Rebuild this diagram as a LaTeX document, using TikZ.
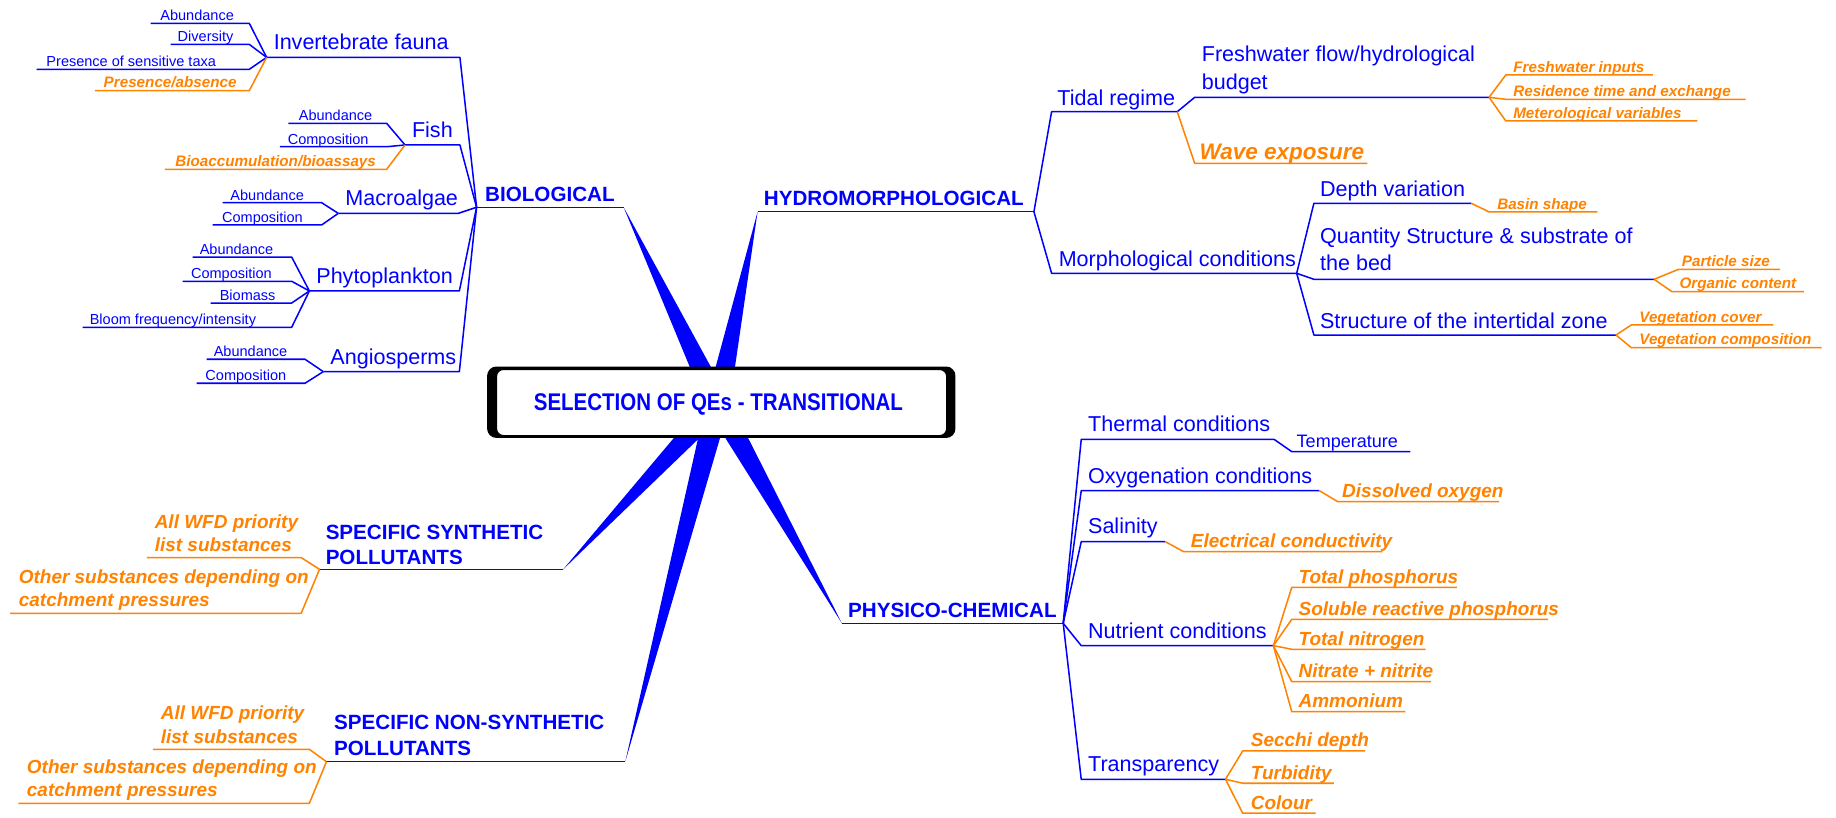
\documentclass[tikz,border=0pt]{standalone}
\usepackage{fontspec}
\setmainfont{Liberation Sans}
\newfontfamily\titlefont{Liberation Sans}[FakeStretch=0.85]
\usetikzlibrary{
  calc,         % wedge corners $(a)!d!90:(b)$
}
\definecolor{mmblue}{RGB}{0,0,255}
\definecolor{mmorange}{RGB}{255,130,0}
% underline of an entry: coordinates (#1-l) and (#1-r)
\newcommand{\twig}[4]{\coordinate (#1-l) at (#2,#4); \coordinate (#1-r) at (#3,#4);}
\newcommand{\fsz}[2]{\fontsize{#1}{#2}\selectfont}
\tikzset{
  every node/.style={
    anchor=base west,
    inner sep=0pt,
    align=left
  },
  title/.style={
    anchor=center,
    text=mmblue,
    font=\titlefont\bfseries\fsz{10.3pt}{12pt}
  },
  main topic/.style={
    text=mmblue,
    font=\bfseries\fsz{8.8pt}{10.8pt}
  },
  sub topic/.style={
    text=mmblue,
    font=\fsz{9.2pt}{12pt}
  },
  blue leaf/.style={
    text=mmblue,
    font=\fsz{6.2pt}{7.5pt}
  },
  orange leaf/.style={
    text=mmorange,
    font=\bfseries\itshape\fsz{6.5pt}{8pt}
  },
  orange item/.style={
    text=mmorange,
    font=\bfseries\itshape\fsz{8.1pt}{10pt}
  },
  blue link/.style={
    draw=mmblue,
    line width=0.65pt,
    line join=round
  },
  orange link/.style={
    draw=mmorange,
    line width=0.65pt,
    line join=round
  },
  branch wedge/.style={
    fill=mmblue
  }
}
\begin{document}
\begin{tikzpicture}[x=0.5pt,y=-0.5pt]
\useasboundingbox (0,0) rectangle (1568,698);
\coordinate (hub) at (613,345);
% main branches
\twig{bio}{407}{532.6}{177}
\twig{hyd}{647}{883}{180.8}
\twig{phy}{719}{908}{532.3}
\twig{syn}{272.9}{481}{486.2}
\twig{nsy}{278.8}{534}{650.5}
\foreach \tip in {bio-r,hyd-l,phy-l,syn-r,nsy-r}
  \fill[branch wedge] ($(hub)!5pt!90:(\tip)$) -- (\tip) -- ($(hub)!5pt!-90:(\tip)$) -- cycle;
\fill[black,rounded corners=4pt] (416,313) rectangle (816,374);
\filldraw[fill=white,draw=black,line width=0.5pt,rounded corners=3pt] (424,315.5) rectangle (808.5,372);
\node[title] (sel) at (613.5,345) {SELECTION OF QEs - TRANSITIONAL};

% biological
\node[main topic] (bio) at (414,172) {BIOLOGICAL};
\draw[blue link] (bio-l) -- (bio-r);
\twig{inv}{227.7}{392.8}{49}
\node[sub topic] (inv) at (233.4,42.5) {Invertebrate fauna};
\twig{inva}{128.7}{212.9}{19.9}
\node[blue leaf] (inva) at (136.6,17.6) {Abundance};
\twig{invb}{145.8}{212.9}{37.9}
\node[blue leaf] (invb) at (151.4,35.6) {Diversity};
\twig{invc}{31.3}{212.9}{59.2}
\node[blue leaf] (invc) at (39.3,56.9) {Presence of sensitive taxa};
\twig{invd}{81.1}{212.9}{77.4}
\node[orange leaf] (invd) at (88.2,75.1) {Presence/absence};
\twig{fish}{345.9}{392.8}{123.8}
\node[sub topic] (fish) at (351.5,117.3) {Fish};
\twig{fisha}{246.2}{330.2}{105.3}
\node[blue leaf] (fisha) at (254.8,103) {Abundance};
\twig{fishb}{239.1}{330.2}{125.3}
\node[blue leaf] (fishb) at (245.4,123) {Composition};
\twig{fishc}{140.9}{330.2}{144.6}
\node[orange leaf] (fishc) at (149.4,142.3) {Bioaccumulation/bioassays};
\twig{mac}{288.9}{391.4}{182.2}
\node[sub topic] (mac) at (294.6,175.5) {Macroalgae};
\twig{maca}{190.2}{274.7}{173.1}
\node[blue leaf] (maca) at (196.4,170.8) {Abundance};
\twig{macb}{181.6}{274.7}{192.1}
\node[blue leaf] (macb) at (189.3,189.8) {Composition};
\twig{pla}{264.2}{392.3}{248.5}
\node[sub topic] (pla) at (269.8,242) {Phytoplankton};
\twig{plaa}{164.5}{249.1}{219.5}
\node[blue leaf] (plaa) at (170.2,217.2) {Abundance};
\twig{plab}{156}{249.1}{240.2}
\node[blue leaf] (plab) at (162.8,237.9) {Composition};
\twig{plac}{179.9}{249.1}{258.8}
\node[blue leaf] (plac) at (187.3,256.5) {Biomass};
\twig{plad}{70.6}{249.1}{279.5}
\node[blue leaf] (plad) at (76.3,277.2) {Bloom frequency/intensity};
\twig{ang}{276.1}{392.3}{317.4}
\node[sub topic] (ang) at (281.8,310.9) {Angiosperms};
\twig{anga}{176.5}{260.5}{306.8}
\node[blue leaf] (anga) at (182.2,304.5) {Abundance};
\twig{angb}{168}{260.5}{327.3}
\node[blue leaf] (angb) at (175.1,325) {Composition};
\foreach \t in {inv,fish,mac,pla,ang}
  \draw[blue link] (\t-l) -- (\t-r) -- (bio-l);
\foreach \t in {inva,invb,invc}
  \draw[blue link] (\t-l) -- (\t-r) -- (inv-l);
\draw[orange link] (invd-l) -- (invd-r) -- (inv-l);
\foreach \t in {fisha,fishb}
  \draw[blue link] (\t-l) -- (\t-r) -- (fish-l);
\draw[orange link] (fishc-l) -- (fishc-r) -- (fish-l);
\foreach \t in {maca,macb}
  \draw[blue link] (\t-l) -- (\t-r) -- (mac-l);
\foreach \t in {plaa,plab,plac,plad}
  \draw[blue link] (\t-l) -- (\t-r) -- (pla-l);
\foreach \t in {anga,angb}
  \draw[blue link] (\t-l) -- (\t-r) -- (ang-l);

% hydromorphological
\node[main topic] (hyd) at (652,175.8) {HYDROMORPHOLOGICAL};
\draw[blue link] (hyd-l) -- (hyd-r);
\twig{tid}{898.1}{1005.4}{95.4}
\node[sub topic] (tid) at (902.7,90) {Tidal regime};
\twig{fwf}{1020.3}{1271.7}{83.1}
\node[sub topic] (fwf) at (1026,76.3) {Freshwater flow/hydrological\\budget};
\twig{fwfa}{1286}{1411.6}{64}
\node[orange leaf] (fwfa) at (1292,61.5) {Freshwater inputs};
\twig{fwfb}{1286}{1490.7}{84.8}
\node[orange leaf] (fwfb) at (1292,82.3) {Residence time and exchange};
\twig{fwfc}{1286}{1449.5}{103.3}
\node[orange leaf] (fwfc) at (1292,100.8) {Meterological variables};
\twig{wav}{1020.3}{1167.7}{139.5}
\node[orange item,font=\bfseries\itshape\fsz{9.6pt}{11pt}] (wav) at (1024,136) {Wave exposure};
\twig{mor}{898.1}{1107.4}{233.4}
\node[sub topic] (mor) at (903.8,227.5) {Morphological conditions};
\twig{dep}{1122.1}{1256.6}{173.6}
\node[sub topic] (dep) at (1127,168) {Depth variation};
\twig{depa}{1271.7}{1364.1}{181}
\node[orange leaf] (depa) at (1278.3,178.5) {Basin shape};
\twig{qua}{1122.1}{1412.6}{238.5}
\node[sub topic,font=\fsz{9.2pt}{11.4pt}] (qua) at (1127,230.6) {Quantity Structure \& substrate of\\the bed};
\twig{quaa}{1433.5}{1520.2}{230}
\node[orange leaf] (quaa) at (1436,227.5) {Particle size};
\twig{quab}{1427.9}{1540.6}{249.1}
\node[orange leaf] (quab) at (1434,246.6) {Organic content};
\twig{itz}{1122.1}{1380.1}{286.1}
\node[sub topic] (itz) at (1127,280.4) {Structure of the intertidal zone};
\twig{itza}{1393.2}{1514.5}{277.5}
\node[orange leaf] (itza) at (1399.7,275) {Vegetation cover};
\twig{itzb}{1393.2}{1555.7}{296.9}
\node[orange leaf] (itzb) at (1399.7,294.4) {Vegetation composition};
\foreach \t in {tid,mor}
  \draw[blue link] (hyd-r) -- (\t-l) -- (\t-r);
\draw[blue link] (tid-r) -- (fwf-l) -- (fwf-r);
\draw[orange link] (tid-r) -- (wav-l) -- (wav-r);
\foreach \t in {fwfa,fwfb,fwfc}
  \draw[orange link] (fwf-r) -- (\t-l) -- (\t-r);
\foreach \t in {dep,qua,itz}
  \draw[blue link] (mor-r) -- (\t-l) -- (\t-r);
\draw[orange link] (dep-r) -- (depa-l) -- (depa-r);
\foreach \t in {quaa,quab}
  \draw[orange link] (qua-r) -- (\t-l) -- (\t-r);
\foreach \t in {itza,itzb}
  \draw[orange link] (itz-r) -- (\t-l) -- (\t-r);

% physico-chemical
\node[main topic] (phy) at (724,527) {PHYSICO-CHEMICAL};
\draw[blue link] (phy-l) -- (phy-r);
\twig{the}{923.4}{1088.1}{375.2}
\node[sub topic] (the) at (928.9,368.6) {Thermal conditions};
\twig{thea}{1103.2}{1204.5}{385.7}
\node[blue leaf,font=\fsz{7.7pt}{9pt}] (thea) at (1107,382.5) {Temperature};
\twig{oxy}{923.4}{1126.7}{419}
\node[sub topic] (oxy) at (928.9,412.5) {Oxygenation conditions};
\twig{oxya}{1142.4}{1280.3}{428.4}
\node[orange item] (oxya) at (1145.9,425) {Dissolved oxygen};
\twig{sal}{923.4}{995.3}{462.6}
\node[sub topic] (sal) at (928.9,456) {Salinity};
\twig{sala}{1010.7}{1180.6}{471.1}
\node[orange item] (sala) at (1016.7,467.7) {Electrical conductivity};
\twig{nut}{923.4}{1087.5}{551.4}
\node[sub topic] (nut) at (928.9,545) {Nutrient conditions};
\twig{nuta}{1103.2}{1244.3}{501.6}
\node[orange item] (nuta) at (1108.7,498.2) {Total phosphorus};
\twig{nutb}{1103.2}{1322.1}{528.9}
\node[orange item] (nutb) at (1108.7,525.5) {Soluble reactive phosphorus};
\twig{nutc}{1103.2}{1217.6}{554.5}
\node[orange item] (nutc) at (1108.7,551.1) {Total nitrogen};
\twig{nutd}{1103.2}{1222.1}{582.1}
\node[orange item] (nutd) at (1108.7,578.7) {Nitrate + nitrite};
\twig{nute}{1103.2}{1200.3}{607.8}
\node[orange item] (nute) at (1108.7,604.4) {Ammonium};
\twig{tra}{923.4}{1046.6}{665.5}
\node[sub topic] (tra) at (928.9,659) {Transparency};
\twig{traa}{1061.3}{1165.9}{641.3}
\node[orange item] (traa) at (1067.9,637.9) {Secchi depth};
\twig{trab}{1061.3}{1139.1}{668.9}
\node[orange item] (trab) at (1067.9,665.5) {Turbidity};
\twig{trac}{1061.3}{1123.5}{694.5}
\node[orange item] (trac) at (1067.9,691.1) {Colour};
\foreach \t in {the,oxy,sal,nut,tra}
  \draw[blue link] (phy-r) -- (\t-l) -- (\t-r);
\draw[blue link] (the-r) -- (thea-l) -- (thea-r);
\draw[orange link] (oxy-r) -- (oxya-l) -- (oxya-r);
\draw[orange link] (sal-r) -- (sala-l) -- (sala-r);
\foreach \t in {nuta,nutb,nutc,nutd,nute}
  \draw[orange link] (nut-r) -- (\t-l) -- (\t-r);
\foreach \t in {traa,trab,trac}
  \draw[orange link] (tra-r) -- (\t-l) -- (\t-r);

% pollutants
\node[main topic] (syn) at (277.8,482.5) {SPECIFIC SYNTHETIC\\POLLUTANTS};
\draw[blue link] (syn-l) -- (syn-r);
\twig{syna}{125.5}{257.2}{476.2}
\node[orange item] (syna) at (131.8,471.1) {All WFD priority\\list substances};
\twig{synb}{8.7}{257.2}{523.8}
\node[orange item] (synb) at (15.7,518.1) {Other substances depending on\\catchment pressures};
\node[main topic] (nsy) at (285,644.8) {SPECIFIC NON-SYNTHETIC\\POLLUTANTS};
\draw[blue link] (nsy-l) -- (nsy-r);
\twig{nsya}{130.7}{264.2}{639.9}
\node[orange item] (nsya) at (137,634.8) {All WFD priority\\list substances};
\twig{nsyb}{15.7}{264.2}{686}
\node[orange item] (nsyb) at (22.6,680.4) {Other substances depending on\\catchment pressures};
\foreach \t in {syna,synb}
  \draw[orange link] (\t-l) -- (\t-r) -- (syn-l);
\foreach \t in {nsya,nsyb}
  \draw[orange link] (\t-l) -- (\t-r) -- (nsy-l);
\end{tikzpicture}
\end{document}
